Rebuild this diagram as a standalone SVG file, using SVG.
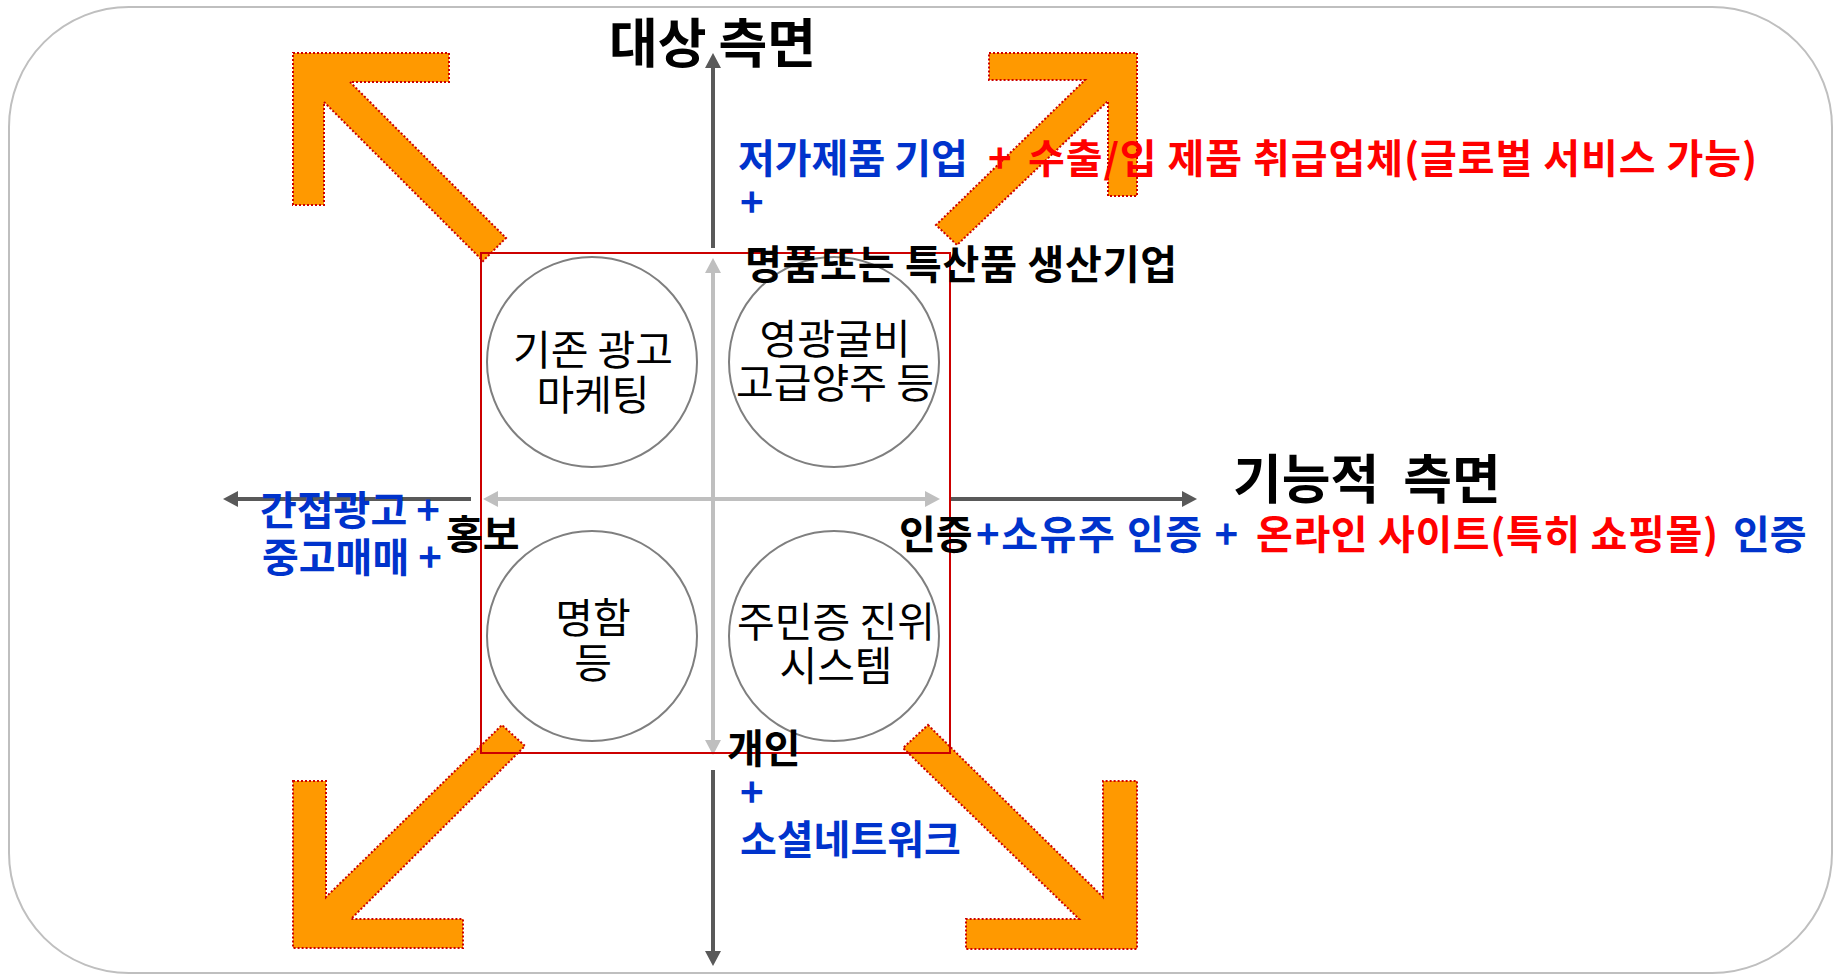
<svg xmlns="http://www.w3.org/2000/svg" width="1836" height="975" viewBox="0 0 1836 975">
<style>
.arrow{fill:#FF9900;stroke:#CC0000;stroke-width:2;stroke-dasharray:2 2}
.ax{stroke:#595959;stroke-width:4;fill:none}
.axl{stroke:#BFBFBF;stroke-width:4;fill:none}
.circ{fill:none;stroke:#7F7F7F;stroke-width:2}
.b{font-family:"Noto Sans CJK KR","Noto Sans",sans-serif;font-weight:bold;font-size:40px}
.t{font-family:"Noto Sans CJK KR","Noto Sans",sans-serif;font-weight:bold;font-size:53px;fill:#000}
.ct{font-family:"Noto Sans CJK KR","Noto Sans",sans-serif;font-size:41px;text-anchor:middle;fill:#000}
.blue{fill:#0033CC}
.red{fill:#FF0000}
.blk{fill:#000}
</style>
<defs>
<marker id="hd" viewBox="0 0 15 16" markerWidth="15" markerHeight="16" refX="5" refY="8" orient="auto-start-reverse" markerUnits="userSpaceOnUse">
<path d="M0,0 L15,8 L0,16 z" fill="#595959"/>
</marker>
<marker id="hl" viewBox="0 0 15 16" markerWidth="15" markerHeight="16" refX="5" refY="8" orient="auto-start-reverse" markerUnits="userSpaceOnUse">
<path d="M0,0 L15,8 L0,16 z" fill="#BFBFBF"/>
</marker>
</defs>
<rect id="frame" x="9" y="7" width="1823" height="966" rx="120" ry="120" fill="#FFFFFF" stroke="#BFBFBF" stroke-width="2"/>

<g id="big-arrows">
<polygon id="arrow-tl" class="arrow" points="293,53 449,53 449,82 350,82 506,238 483,261 324,102 324,205 293,205"/>
<polygon id="arrow-tr" class="arrow" points="989,53 1137,53 1137,196 1108,196 1108,101 957,245 936,225 1085,80 989,80"/>
<polygon id="arrow-bl" class="arrow" points="293,781 326,781 326,897 502,725 525,746 351,919 463,919 463,948 293,948"/>
<polygon id="arrow-br" class="arrow" points="928,725 1103,897 1103,781 1137,781 1137,949 966,949 966,919 1079,919 903,748"/>
</g>

<g id="connectors">
<line class="ax" x1="713" y1="248" x2="713" y2="63" marker-end="url(#hd)"/>
<line class="ax" x1="713" y1="770" x2="713" y2="956" marker-end="url(#hd)"/>
<line class="ax" x1="471" y1="499" x2="233" y2="499" marker-end="url(#hd)"/>
<line class="ax" x1="950" y1="499" x2="1187" y2="499" marker-end="url(#hd)"/>
<line class="axl" x1="713" y1="268" x2="713" y2="745" marker-start="url(#hl)" marker-end="url(#hl)"/>
<line class="axl" x1="493" y1="499" x2="930" y2="499" marker-start="url(#hl)" marker-end="url(#hl)"/>
</g>

<rect id="matrix" x="481" y="253" width="469" height="500" fill="none" stroke="#CC0000" stroke-width="2"/>

<g id="node-tl">
<circle class="circ" cx="592" cy="362" r="105"/>
<text class="ct" x="593" y="365">기존 광고</text>
<text class="ct" x="593" y="410">마케팅</text>
</g>
<g id="node-tr">
<circle class="circ" cx="834" cy="362" r="105"/>
<text class="ct" x="835" y="354">영광굴비</text>
<text class="ct" x="835" y="398">고급양주 등</text>
</g>
<g id="node-bl">
<circle class="circ" cx="592" cy="636" r="105"/>
<text class="ct" x="593" y="633">명함</text>
<text class="ct" x="593" y="678">등</text>
</g>
<g id="node-br">
<circle class="circ" cx="834" cy="636" r="105"/>
<text class="ct" x="836" y="637">주민증 진위</text>
<text class="ct" x="836" y="681">시스템</text>
</g>

<g id="titles">
<text class="t" x="609" y="63">대상 측면</text>
<text class="t" x="1233" y="499" xml:space="preserve">기능적  측면</text>
</g>

<g id="labels">
<text class="b" y="173"><tspan class="blue" x="738">저가제품 기업</tspan><tspan class="red" x="988">+</tspan></text>
<text class="b red" x="1028" y="173" textLength="729" lengthAdjust="spacing">수출/입 제품 취급업체(글로벌 서비스 가능)</text>
<text class="b blue" x="740" y="217">+</text>
<text class="b blk" x="745" y="279" textLength="432" lengthAdjust="spacing">명품또는 특산품 생산기업</text>

<text class="b blue" x="260" y="525">간접광고 +</text>
<text class="b blue" x="262" y="572">중고매매 +</text>
<text class="b blk" x="446" y="549">홍보</text>

<text class="b blk" x="899" y="549">인증</text>
<text class="b blue" x="976" y="549" textLength="262" lengthAdjust="spacing">+소유주 인증 +</text>
<text class="b red" x="1256" y="549" textLength="462" lengthAdjust="spacing">온라인 사이트(특히 쇼핑몰)</text>
<text class="b blue" x="1733" y="549">인증</text>

<text class="b blk" x="727" y="763">개인</text>
<text class="b blue" x="740" y="807">+</text>
<text class="b blue" x="740" y="854">소셜네트워크</text>
</g>
</svg>
